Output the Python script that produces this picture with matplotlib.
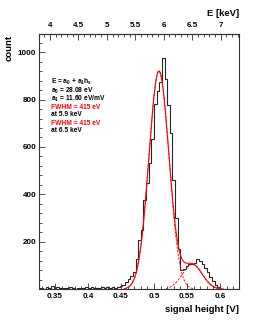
import numpy as np
import matplotlib
matplotlib.use("Agg")
import matplotlib.pyplot as plt
from matplotlib.ticker import MultipleLocator, FixedLocator, FuncFormatter

plt.rcParams['font.family'] = ['Liberation Sans', 'DejaVu Sans']
plt.rcParams['mathtext.fontset'] = 'custom'
plt.rcParams['mathtext.rm'] = 'Liberation Sans:bold'
plt.rcParams['mathtext.it'] = 'Liberation Sans:bold'
plt.rcParams['mathtext.bf'] = 'Liberation Sans:bold'

# ---- data ----
bin_start = 0.324
bin_width = 0.004
counts = [4, 6, 3, 8, 5, 12, 7, 9, 5, 7, 4, 6, 8, 5, 3, 6, 4, 7, 9, 5,
          8, 6, 4, 7, 9, 6, 8, 5, 9, 7, 11, 14, 20, 30, 42, 56, 72, 128,
          208, 250, 377, 450, 531, 632, 780, 835, 872, 973, 885, 775, 660,
          461, 300, 170, 80, 85, 100, 105, 105, 112, 127, 118, 105, 90, 72,
          52, 33, 17, 8, 3, 2, 1, 0, 1, 0, 0, 0]

# fit parameters (two gaussians)
g1_amp, g1_mean, g1_sigma = 920.0, 0.5075, 0.0152
g2_amp, g2_mean, g2_sigma = 105.0, 0.558, 0.0152
g1_range = (0.455, 0.560)
g2_range = (0.518, 0.605)
sum_range = (0.455, 0.605)

# calibration E = a0 + a1*h
a0_keV = 0.02808
a1_keV_per_V = 11.60

annot_lines = [("E = a$_0$ + a$_1$h$_s$", "#000000"),
               ("a$_0$ = 28.08 eV", "#000000"),
               ("a$_1$ = 11.60 eV/mV", "#000000"),
               ("FWHM = 415 eV", "#ff0000"),
               ("at 5.9 keV", "#000000"),
               ("FWHM = 415 eV", "#ff0000"),
               ("at 6.5 keV", "#000000")]

# ---- figure ----
W, H = 269, 325
fig = plt.figure(figsize=(W / 100, H / 100), dpi=100)
L, R, T, B = 39, 239, 34.3, 289.3
ax = fig.add_axes([L / W, 1 - B / H, (R - L) / W, (B - T) / H])

edges = np.round(bin_start + bin_width * np.arange(len(counts) + 1), 5)
ax.stairs(counts, edges, color='#262626', lw=0.8)


def gauss(x, a, m, s):
    return a * np.exp(-0.5 * ((x - m) / s) ** 2)


xs = np.linspace(*sum_range, 400)
ax.plot(xs, gauss(xs, g1_amp, g1_mean, g1_sigma) + gauss(xs, g2_amp, g2_mean, g2_sigma),
        color='#ff0000', lw=0.8)
x1 = np.linspace(*g1_range, 300)
ax.plot(x1, gauss(x1, g1_amp, g1_mean, g1_sigma), color='#ff0000', lw=0.6,
        ls=(0, (3, 1.5)))
x2 = np.linspace(*g2_range, 300)
ax.plot(x2, gauss(x2, g2_amp, g2_mean, g2_sigma), color='#ff0000', lw=0.6,
        ls=(0, (3, 1.5)))

ax.set_xlim(0.3258, 0.6288)
ax.set_ylim(0, 1075)

fmt = FuncFormatter(lambda v, p: "%g" % round(v, 4))
ax.xaxis.set_major_locator(MultipleLocator(0.05))
ax.xaxis.set_minor_locator(MultipleLocator(0.01))
ax.xaxis.set_major_formatter(fmt)
ax.yaxis.set_major_locator(FixedLocator([200, 400, 600, 800, 1000]))
ax.yaxis.set_minor_locator(MultipleLocator(40))
ax.tick_params(which='both', direction='in', top=False, right=False, width=0.6,
               colors='#333333', labelcolor='black')
ax.tick_params(which='major', length=4.0)
ax.tick_params(which='minor', length=2.2)
ax.tick_params(axis='x', pad=3)
ax.tick_params(axis='y', pad=2)
for lab in ax.get_xticklabels() + ax.get_yticklabels():
    lab.set_fontsize(5.8)
    lab.set_fontweight('bold')
for s in ax.spines.values():
    s.set_linewidth(0.8)
    s.set_color('#333333')

sec = ax.secondary_xaxis('top', functions=(lambda h: a0_keV + a1_keV_per_V * h,
                                           lambda e: (e - a0_keV) / a1_keV_per_V))
sec.xaxis.set_major_locator(MultipleLocator(0.5))
sec.xaxis.set_minor_locator(MultipleLocator(0.1))
sec.xaxis.set_major_formatter(fmt)
sec.tick_params(which='both', direction='in', width=0.6, colors='#333333',
                labelcolor='black', pad=3.5)
sec.tick_params(which='major', length=4.0)
sec.tick_params(which='minor', length=2.2)
sec.spines['top'].set_linewidth(0.8)
sec.spines['top'].set_color('#333333')
for lab in sec.get_xticklabels():
    lab.set_fontsize(5.8)
    lab.set_fontweight('bold')

# axis titles
fig.text(R / W, 1 - 13.3 / H, "E [keV]", ha='right', va='center', fontsize=6.8,
         fontweight='bold')
fig.text(R / W, 1 - 310 / H, "signal height [V]", ha='right', va='center',
         fontsize=6.8, fontweight='bold')
fig.text(9.3 / W, 1 - 34.5 / H, "count", rotation=90, ha='center', va='top',
         fontsize=6.8, fontweight='bold')

# annotations
ys = [81.7, 90.7, 99.3, 107.3, 115, 123.3, 131]
for (txt, col), yy in zip(annot_lines, ys):
    ax.text((50.7 - L) / (R - L), (B - yy) / (B - T), txt, transform=ax.transAxes,
            color=col, fontsize=4.8, fontweight='bold', ha='left', va='center')

fig.savefig("out.png", dpi=100)
